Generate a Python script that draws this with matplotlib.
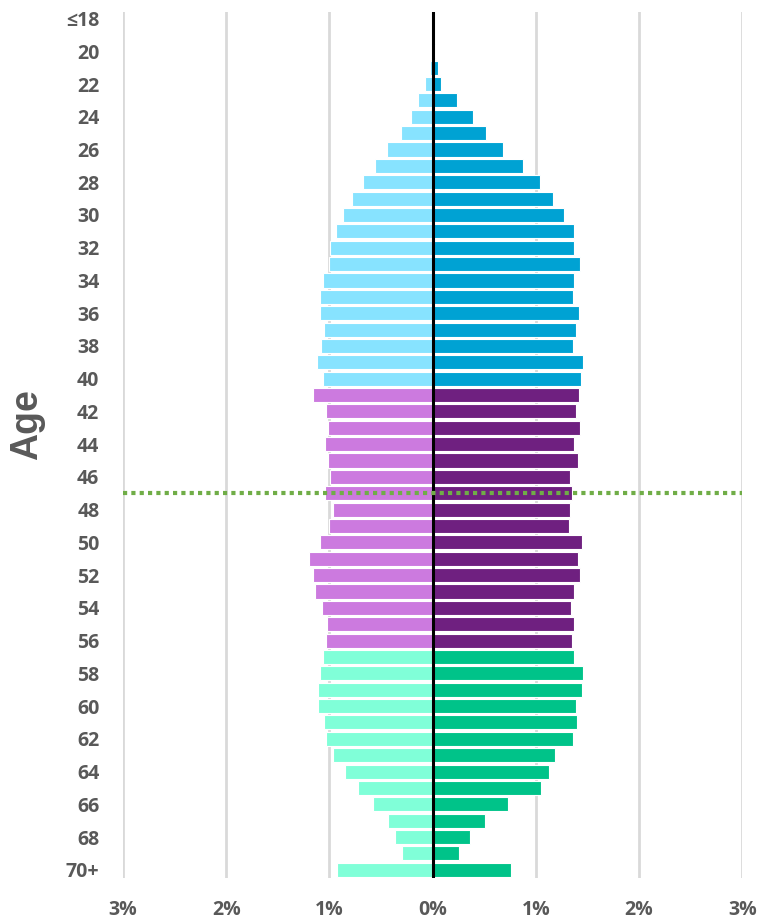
import numpy as np
import matplotlib.pyplot as plt

# age rows (top to bottom), share of population in % per side
ages = ['≤18'] + [str(a) for a in range(19, 70)] + ['70+']
left_pct = [0.0, 0.0, 0.02, 0.03, 0.07, 0.14, 0.21, 0.31, 0.44, 0.56, 0.67, 0.78, 0.87,
            0.94, 0.99, 1.00, 1.06, 1.09, 1.09, 1.05, 1.08, 1.12, 1.06,
            1.16, 1.03, 1.01, 1.04, 1.01, 0.99, 1.04, 0.97, 1.00, 1.09, 1.20, 1.16,
            1.14, 1.07, 1.02, 1.03,
            1.06, 1.09, 1.11, 1.11, 1.05, 1.03, 0.97, 0.85, 0.72, 0.58, 0.43, 0.36, 0.30, 0.93]
right_pct = [0.0, 0.0, 0.024, 0.05, 0.08, 0.24, 0.39, 0.52, 0.68, 0.88, 1.04, 1.17, 1.27,
             1.37, 1.37, 1.43, 1.37, 1.36, 1.42, 1.39, 1.36, 1.46, 1.44,
             1.42, 1.39, 1.43, 1.37, 1.41, 1.33, 1.35, 1.33, 1.32, 1.45, 1.41, 1.43,
             1.37, 1.34, 1.37, 1.35,
             1.37, 1.46, 1.45, 1.39, 1.40, 1.36, 1.19, 1.13, 1.05, 0.73, 0.51, 0.36, 0.26, 0.76]
group_of_age = ['young'] * 23 + ['mid'] * 16 + ['old'] * 14
marker_age = '47'

light = {'young': '#87E3FF', 'mid': '#CC7ADF', 'old': '#80FFD8'}
dark = {'young': '#00A2D3', 'mid': '#6F2080', 'old': '#00C389'}

y = np.arange(len(ages))
lc = [light[g] for g in group_of_age]
rc = [dark[g] for g in group_of_age]

fig = plt.figure(figsize=(7.59, 9.23), dpi=100)
ax = fig.add_axes([0.162, 0.0488, 0.816, 0.9382])

ax.barh(y, [-v for v in left_pct], height=0.86, color=lc, edgecolor='white', linewidth=0.8, zorder=2)
ax.barh(y, right_pct, height=0.86, color=rc, edgecolor='white', linewidth=0.8, zorder=2)

ax.set_xlim(-3, 3)
ax.set_ylim(len(ages) - 0.5, -0.4)

xt = np.arange(-3, 4)
ax.set_xticks(xt)
ax.set_xticklabels(['{}%'.format(abs(v)) for v in xt])
ax.set_yticks(y[::2])
ax.set_yticklabels(ages[::2])
for v in xt:
    if v != 0:
        ax.axvline(v, color='#D9D9D9', linewidth=2, zorder=1)
ax.axvline(0, color='black', linewidth=2.2, zorder=3)
ax.axhline(ages.index(marker_age), color='#70AD47', linewidth=3, linestyle=(0, (1, 1)), zorder=4)

for s in ax.spines.values():
    s.set_visible(False)
ax.tick_params(axis='both', length=0, colors='#595959')
ax.tick_params(axis='x', pad=16, labelsize=14)
ax.tick_params(axis='y', pad=17, labelsize=14)
for t in ax.get_xticklabels() + ax.get_yticklabels():
    t.set_fontweight('bold')
    t.set_family('Open Sans')

fig.text(0.0356, 0.5395, 'Age', rotation=90, ha='center', va='center', fontsize=27,
         fontweight='bold', color='#595959', family='Liberation Sans')

fig.savefig('out.png', dpi=100)
